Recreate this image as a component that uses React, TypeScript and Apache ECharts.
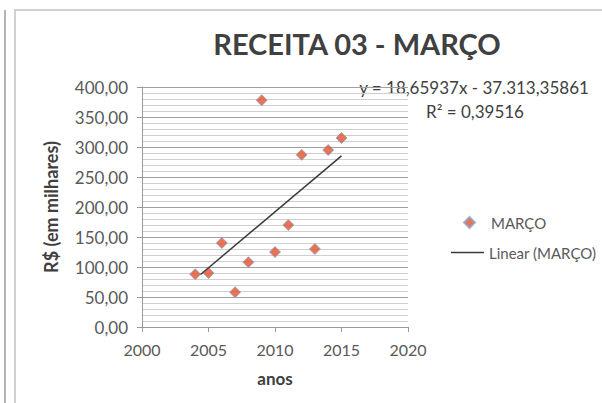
import React, { useEffect, useRef } from 'react';
import * as echarts from 'echarts';

const years = [2004, 2005, 2006, 2007, 2008, 2009, 2010, 2011, 2012, 2013, 2014, 2015];
const marco = [88, 90, 140, 58, 108, 378, 125, 170, 287, 130, 295, 315];
const trendYears = [2004.4, 2015];
const trendValues = [87.5, 285.3];
const titleText = 'RECEITA 03 - MARÇO';
const equationText = 'y = 18,65937x - 37.313,35861';
const r2Text = 'R² = 0,39516';
const seriesName = 'MARÇO';
const trendName = 'Linear (MARÇO)';
const xAxisName = 'anos';
const yAxisName = 'R$ (em milhares)';

const FONT = "Lato, 'Open Sans', sans-serif";

export default function App() {
  const ref = useRef<HTMLDivElement>(null);
  useEffect(() => {
    if (!ref.current) return;
    const chart = echarts.init(ref.current, null, { renderer: 'svg' });
    chart.setOption({
      animation: false,
      backgroundColor: '#ffffff',
      textStyle: { fontFamily: FONT },
      title: {
        text: titleText,
        left: 352,
        top: 24,
        textAlign: 'center',
        textStyle: { fontFamily: FONT, fontSize: 29, fontWeight: 'bold', color: '#404040' },
      },
      grid: { left: 142, top: 87, width: 266, height: 240 },
      legend: [
        {
          orient: 'vertical',
          left: 458,
          top: 210,
          itemWidth: 11,
          itemHeight: 11,
          icon: 'diamond',
          textStyle: { fontFamily: FONT, fontSize: 15, color: '#595959', padding: [0, 0, 0, 11] },
          data: [{ name: seriesName }],
        },
        {
          orient: 'vertical',
          left: 446,
          top: 240,
          itemWidth: 33,
          itemHeight: 1.5,
          icon: 'rect',
          itemStyle: { color: '#3a3a3a', borderWidth: 0 },
          textStyle: { fontFamily: FONT, fontSize: 15, color: '#595959' },
          data: [{ name: trendName }],
        },
      ],
      xAxis: {
        type: 'value',
        min: 2000,
        max: 2020,
        interval: 5,
        name: xAxisName,
        nameLocation: 'middle',
        nameGap: 43,
        nameTextStyle: { fontFamily: FONT, fontSize: 17, fontWeight: 'bold', color: '#404040' },
        axisLine: { show: true, lineStyle: { color: '#9a9a9a', width: 1 } },
        axisTick: { show: true, length: 5, lineStyle: { color: '#9a9a9a' } },
        axisLabel: { fontFamily: FONT, fontSize: 16, color: '#595959', margin: 14, formatter: (v: number) => String(v) },
        splitLine: { show: false },
      },
      yAxis: {
        type: 'value',
        min: 0,
        max: 400,
        interval: 50,
        name: yAxisName,
        nameLocation: 'middle',
        nameGap: 82,
        nameRotate: 90,
        nameTextStyle: { fontFamily: FONT, fontSize: 18, fontWeight: 'bold', color: '#404040' },
        axisLine: { show: true, lineStyle: { color: '#9a9a9a', width: 1 } },
        axisTick: { show: true, length: 5, lineStyle: { color: '#9a9a9a' } },
        axisLabel: {
          fontFamily: FONT,
          fontSize: 17,
          color: '#595959',
          margin: 14,
          formatter: (v: number) => v.toFixed(2).replace('.', ','),
        },
        splitLine: { show: true, lineStyle: { color: '#a0a0a0', width: 1 } },
        minorTick: { show: false, splitNumber: 5 },
        minorSplitLine: { show: true, lineStyle: { color: '#cfcfcf', width: 1 } },
      },
      graphic: [
        { type: 'line', shape: { x1: 5, y1: 10, x2: 5, y2: 403 }, style: { stroke: '#b4b4b4', lineWidth: 2 }, silent: true },
        { type: 'rect', shape: { x: 15, y: 10, width: 600, height: 400 }, style: { fill: 'none', stroke: '#c4c4c4', lineWidth: 1.5 }, silent: true },
        {
          type: 'text',
          x: 474,
          y: 87,
          style: { text: equationText, fontFamily: FONT, fontSize: 17, fill: '#404040', align: 'center', verticalAlign: 'middle' },
        },
        {
          type: 'text',
          x: 475,
          y: 111,
          style: { text: r2Text, fontFamily: FONT, fontSize: 17, fill: '#404040', align: 'center', verticalAlign: 'middle' },
        },
      ],
      series: [
        {
          name: seriesName,
          type: 'scatter',
          symbol: 'diamond',
          symbolSize: 11,
          itemStyle: { color: '#e2512b', borderColor: '#8aa4c6', borderWidth: 1 },
          data: years.map((y, i) => [y, marco[i]]),
          z: 3,
        },
        {
          name: trendName,
          type: 'line',
          symbol: 'none',
          lineStyle: { color: '#3a3a3a', width: 1.5 },
          itemStyle: { color: '#3a3a3a' },
          data: trendYears.map((y, i) => [y, trendValues[i]]),
          z: 4,
        },
      ],
    });
    return () => chart.dispose();
  }, []);
  return <div ref={ref} style={{ position: 'fixed', left: 0, top: 0, width: 602, height: 403 }} />;
}
